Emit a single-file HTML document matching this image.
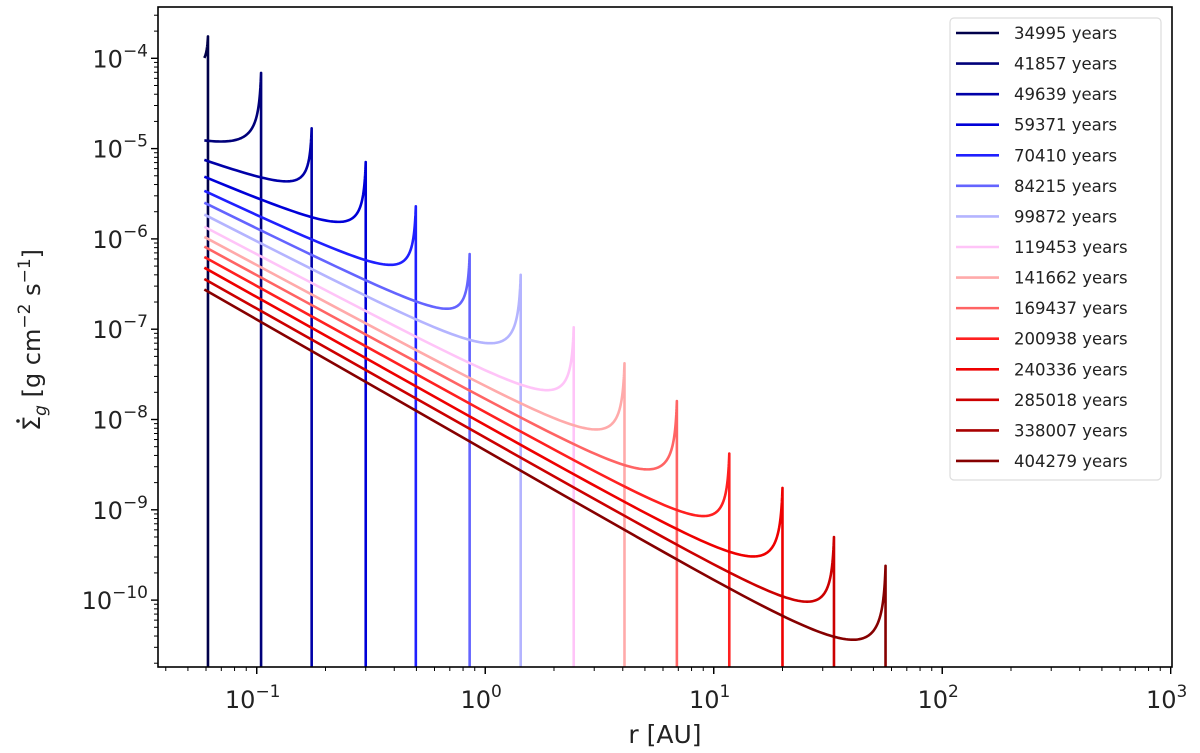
<!DOCTYPE html>
<html><head><meta charset="utf-8"><style>
html,body{margin:0;padding:0;background:#fff;}
svg{display:block;font-family:"DejaVu Sans","Liberation Sans",sans-serif;}
</style></head><body>
<svg id="chart" width="1200" height="753" viewBox="0 0 1200 753" xmlns="http://www.w3.org/2000/svg">
<defs><clipPath id="plotclip"><rect x="158" y="7" width="1014" height="660"/></clipPath></defs>
<rect x="0" y="0" width="1200" height="753" fill="#fff"/>
<g id="curves" clip-path="url(#plotclip)"></g>
<g id="axes"></g>
<g id="legend"></g>
<text x="665" y="743" font-size="25" text-anchor="middle" fill="#222">r [AU]</text>
<g transform="translate(40,340) rotate(-90)">
<text x="0" y="0" font-size="24" text-anchor="middle" fill="#222">Σ<tspan font-size="17" dy="6" font-style="italic">g</tspan><tspan dy="-6"> [g cm</tspan><tspan font-size="17" dy="-10">−2</tspan><tspan dy="10"> s</tspan><tspan font-size="17" dy="-10">−1</tspan><tspan dy="10">]</tspan></text>
<circle cx="-81" cy="-22" r="1.8" fill="#222"/>
</g>
</svg>
<script>
const labels = ["34995 years","41857 years","49639 years","59371 years","70410 years","84215 years","99872 years","119453 years","141662 years","169437 years","200938 years","240336 years","285018 years","338007 years","404279 years"];
const colors = ["#00004a","#00007a","#0000a8","#0000d8","#2020ff","#6464ff","#b4b4ff","#ffc4f8","#ffaaaa","#ff6464","#ff2020","#ee0000","#cc0000","#a80000","#860000"];
const curveEntry = [0,1,2,3,4,5,6,7,8,9,10,11,12,14];
const startR = [0.059,0.059,0.059,0.059,0.059,0.059,0.059,0.059,0.059,0.059,0.059,0.059,0.059,0.059];
const startVal = [7e-5,9.3e-6,7.0e-6,4.7e-6,3.35e-6,2.5e-6,1.85e-6,1.36e-6,1.05e-6,8.2e-7,6.3e-7,4.8e-7,3.6e-7,2.75e-7];
const slopes = [0,0.7,0.95,1.1,1.2,1.25,1.3,1.33,1.36,1.38,1.4,1.42,1.43,1.45];
const spikeR = [0.0612,0.1045,0.174,0.3,0.497,0.855,1.43,2.44,4.07,6.9,11.7,20.0,33.6,56.5];
const peakVal = [1.75e-4,6.9e-5,1.68e-5,7.1e-6,2.3e-6,6.8e-7,4.0e-7,1.05e-7,4.2e-8,1.6e-8,4.2e-9,1.75e-9,5.0e-10,2.4e-10];
const xTicks = [-1,0,1,2,3];
const yTicks = [-4,-5,-6,-7,-8,-9,-10];

const NS="http://www.w3.org/2000/svg";
const X0=256.7, XD=228.5, Y0=58.3, YD=90.3;
function xs(r){return X0+XD*(Math.log10(r)+1);}
function ys(v){return Y0-YD*(Math.log10(v)+4);}
function mk(tag,attrs,parent){const e=document.createElementNS(NS,tag);for(const k in attrs)e.setAttribute(k,attrs[k]);parent.appendChild(e);return e;}

const cg=document.getElementById('curves');
for(let i=0;i<spikeR.length;i++){
  const r0=startR[i], rc=spikeR[i], S=startVal[i], s=slopes[i];
  const base=r=>S*Math.pow(r/r0,-s);
  const eps=0.01, pw=0.8;
  const P=Math.max(peakVal[i]-base(rc),0);
  const pts=[];
  const u0=1-r0/rc;
  const N=300;
  for(let k=0;k<=N;k++){
    const u=Math.exp(Math.log(u0)+(Math.log(1e-5)-Math.log(u0))*k/N);
    const r=rc*(1-u);
    const v=base(r)+P*Math.pow(eps/(u+eps),pw);
    pts.push(xs(r).toFixed(2)+','+ys(v).toFixed(2));
  }
  pts.push(xs(rc).toFixed(2)+',760');
  const p=mk('polyline',{points:pts.join(' '),fill:'none',stroke:colors[curveEntry[i]],'stroke-width':2.6,'stroke-linejoin':'round'},cg);
  
  
}

const ag=document.getElementById('axes');
const frame=mk('rect',{x:158,y:7,width:1014,height:660,fill:'none',stroke:'#000','stroke-width':1.6},ag);


for(let d=-2;d<=2;d++){for(let m=1;m<10;m++){
  const x=xs(m*Math.pow(10,d)); if(x<158||x>1172.5)continue;
  mk('line',{x1:x,y1:667,x2:x,y2:m===1?674:671,stroke:'#000','stroke-width':m===1?1.4:1},ag);
}}
xTicks.forEach(e=>{
  const x=xs(Math.pow(10,e));
  mk('line',{x1:x,y1:667,x2:x,y2:674,stroke:'#000','stroke-width':1.4},ag);
  const t=mk('text',{x:x-4,y:708,'font-size':24,'text-anchor':'middle',fill:'#222'},ag);
  
  
  t.innerHTML='10<tspan font-size="17" dy="-11">'+(e<0?'−'+(-e):e)+'</tspan>';
});
for(let d=-11;d<=-3;d++){for(let m=1;m<10;m++){
  const y=ys(m*Math.pow(10,d)); if(y<6.5||y>667.5)continue;
  mk('line',{x1:158,y1:y,x2:m===1?151:154,y2:y,stroke:'#000','stroke-width':m===1?1.4:1},ag);
}}
yTicks.forEach(e=>{
  const y=ys(Math.pow(10,e));
  const t=mk('text',{x:148,y:y+9,'font-size':24,'text-anchor':'end',fill:'#222'},ag);
  
  
  t.innerHTML='10<tspan font-size="17" dy="-11">−'+(-e)+'</tspan>';
});

const lg=document.getElementById('legend');
const box=mk('rect',{x:950,y:18,width:211,height:462,rx:4,fill:'#fff',stroke:'#ddd','stroke-width':1.2},lg);


labels.forEach((l,i)=>{
  const y=33+i*30.57;
  const g=mk('g',{},lg);
  
  
  mk('line',{x1:956,y1:y,x2:999,y2:y,stroke:colors[i],'stroke-width':2.6},g);
  const t=mk('text',{x:1014,y:y+6,'font-size':16.5,fill:'#222'},g);
  t.textContent=l;
});
</script>
</body></html>
